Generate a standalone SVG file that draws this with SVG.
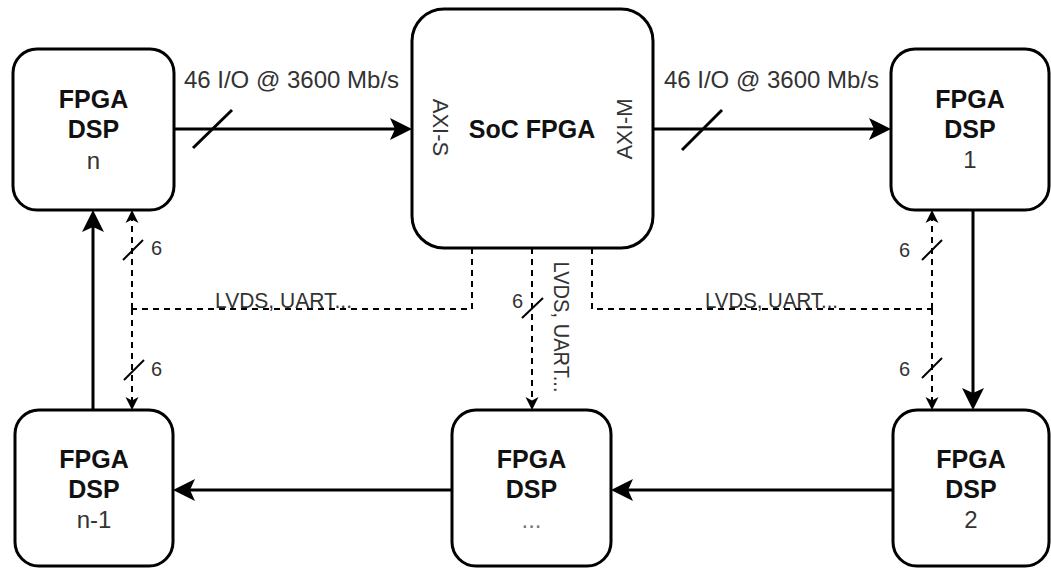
<svg xmlns="http://www.w3.org/2000/svg" width="1051" height="569" viewBox="0 0 1051 569">
<style>
.box{fill:#fff;stroke:#000;stroke-width:3}
.b{font-family:"Liberation Sans",Arial,sans-serif;font-weight:bold;font-size:25px;fill:#111;text-anchor:middle}
.r{font-family:"Liberation Sans",Arial,sans-serif;font-size:24px;fill:#333;text-anchor:middle}
.s{font-family:"Liberation Sans",Arial,sans-serif;font-size:22px;fill:#333;text-anchor:middle}
.six{font-family:"Liberation Sans",Arial,sans-serif;font-size:20px;fill:#333}
.solid{fill:none;stroke:#000;stroke-width:3}
.dash{fill:none;stroke:#000;stroke-width:2;stroke-dasharray:6 5}
.slash{stroke:#000;stroke-width:3}
.slash2{stroke:#000;stroke-width:2}
</style>
<defs>
<marker id="ah" markerUnits="userSpaceOnUse" markerWidth="24" markerHeight="24" viewBox="0 0 24 24" refX="16" refY="12" orient="auto">
<path d="M0,1 L22,12 L0,23 L5,12 Z" fill="#000"/>
</marker>
<marker id="ahs" markerUnits="userSpaceOnUse" markerWidth="16" markerHeight="16" viewBox="0 0 16 16" refX="9" refY="8" orient="auto">
<path d="M0,1.5 L13,8 L0,14.5 L3.5,8 Z" fill="#000"/>
</marker>
</defs>

<g id="connectors">
<path class="solid" d="M174,129 H406" marker-end="url(#ah)"/>
<line class="slash" x1="193" y1="148" x2="232" y2="110"/>
<path class="solid" d="M653,129 H885" marker-end="url(#ah)"/>
<line class="slash" x1="682" y1="150" x2="722" y2="110"/>
<path class="solid" d="M973,210 V404" marker-end="url(#ah)"/>
<path class="solid" d="M893,490 H617" marker-end="url(#ah)"/>
<path class="solid" d="M452,490 H179" marker-end="url(#ah)"/>
<path class="solid" d="M93,410 V216" marker-end="url(#ah)"/>

<path class="dash" d="M472,248 V309 H132"/>
<path class="dash" d="M132,309 V214" marker-end="url(#ahs)"/>
<path class="dash" d="M132,309 V406" marker-end="url(#ahs)"/>
<line class="slash2" x1="123" y1="260" x2="143" y2="240"/>
<line class="slash2" x1="124" y1="380" x2="144" y2="360"/>

<path class="dash" d="M592,248 V309 H932"/>
<path class="dash" d="M932,309 V214" marker-end="url(#ahs)"/>
<path class="dash" d="M932,309 V406" marker-end="url(#ahs)"/>
<line class="slash2" x1="922" y1="260" x2="942" y2="240"/>
<line class="slash2" x1="922" y1="378" x2="942" y2="358"/>

<path class="dash" d="M532,248 V406" marker-end="url(#ahs)"/>
<line class="slash2" x1="522" y1="318" x2="543" y2="298"/>

<text class="r" x="291.5" y="88">46 I/O @ 3600 Mb/s</text>
<text class="r" x="771.5" y="88">46 I/O @ 3600 Mb/s</text>
<text class="s" x="283.5" y="308" textLength="137" lengthAdjust="spacingAndGlyphs">LVDS, UART...</text>
<text class="s" x="771.5" y="308" textLength="133" lengthAdjust="spacingAndGlyphs">LVDS, UART...</text>
<text class="s" transform="translate(554,327) rotate(90)" x="0" y="0" textLength="131" lengthAdjust="spacingAndGlyphs">LVDS, UART...</text>
<text class="six" x="151" y="255">6</text>
<text class="six" x="151" y="376">6</text>
<text class="six" x="899" y="257">6</text>
<text class="six" x="899" y="376">6</text>
<text class="six" x="512" y="308">6</text>
</g>

<g id="node-n">
<rect class="box" x="13" y="49" width="161" height="161" rx="24"/>
<text class="b" x="93.5" y="108">FPGA</text>
<text class="b" x="93.5" y="138">DSP</text>
<text class="r" x="93.5" y="169">n</text>
</g>

<g id="node-soc">
<rect class="box" x="412" y="9" width="241" height="239" rx="32"/>
<text class="b" x="532" y="138">SoC FPGA</text>
<text class="s" transform="translate(433,127.5) rotate(90)" x="0" y="0">AXI-S</text>
<text class="s" transform="translate(632,129) rotate(-90)" x="0" y="0">AXI-M</text>
</g>

<g id="node-1">
<rect class="box" x="891" y="49" width="158" height="161" rx="24"/>
<text class="b" x="970" y="108">FPGA</text>
<text class="b" x="970" y="138">DSP</text>
<text class="r" x="970" y="168">1</text>
</g>

<g id="node-n-1">
<rect class="box" x="15" y="410" width="158" height="156" rx="24"/>
<text class="b" x="94" y="468">FPGA</text>
<text class="b" x="94" y="498">DSP</text>
<text class="r" x="94" y="528">n-1</text>
</g>

<g id="node-dots">
<rect class="box" x="452" y="410" width="159" height="156" rx="24"/>
<text class="b" x="531.5" y="468">FPGA</text>
<text class="b" x="531.5" y="498">DSP</text>
<text class="r" x="531.5" y="528" style="fill:#777">...</text>
</g>

<g id="node-2">
<rect class="box" x="893" y="410" width="156" height="156" rx="24"/>
<text class="b" x="971" y="468">FPGA</text>
<text class="b" x="971" y="498">DSP</text>
<text class="r" x="971" y="528">2</text>
</g>
</svg>
